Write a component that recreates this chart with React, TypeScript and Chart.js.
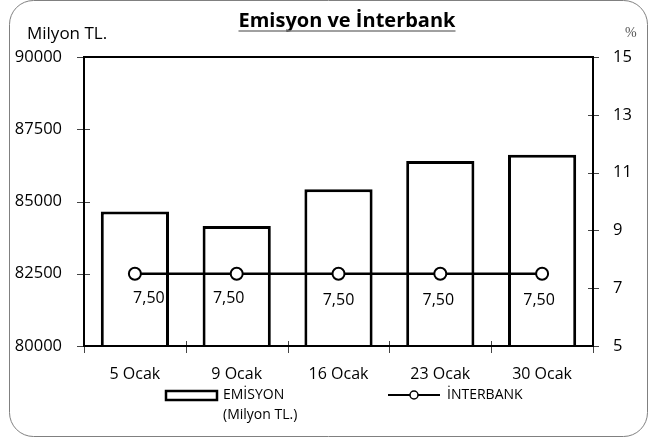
import React, { useEffect, useRef } from 'react';
import { Chart, registerables } from 'chart.js';

Chart.register(...registerables);

const categories = ['5 Ocak', '9 Ocak', '16 Ocak', '23 Ocak', '30 Ocak'];
const emisyon = [84650, 84150, 85420, 86400, 86620];
const interbank = [7.5, 7.5, 7.5, 7.5, 7.5];
const leftMin = 80000;
const leftMax = 90000;
const leftStep = 2500;
const rightMin = 5;
const rightMax = 15;
const rightStep = 2;

const titleText = 'Emisyon ve İnterbank';
const leftUnit = 'Milyon TL.';
const rightUnit = '%';
const legendBar = ['EMİSYON', '(Milyon TL.)'];
const legendLine = 'İNTERBANK';

// label placement style (manual nudges as in the original)
const labelDx = [14, -8, 0, -2, -3];
const labelDy = [25, 25, 27, 27, 27];

const FONT = '"Open Sans", sans-serif';

export default function App() {
  const ref = useRef<HTMLCanvasElement>(null);

  useEffect(() => {
    const canvas = ref.current!;
    const deco = {
      id: 'deco',
      beforeDraw(chart: any) {
        const ctx = chart.ctx as CanvasRenderingContext2D;
        ctx.save();
        // outer rounded border
        ctx.strokeStyle = '#808080';
        ctx.lineWidth = 1;
        ctx.beginPath();
        (ctx as any).roundRect(9.5, 0.5, 638, 436, 24);
        ctx.stroke();
        // title
        ctx.fillStyle = '#000';
        ctx.font = `bold 20px ${FONT}`;
        ctx.textAlign = 'center';
        ctx.textBaseline = 'alphabetic';
        ctx.fillText(titleText, 347, 27);
        const w = ctx.measureText(titleText).width;
        ctx.lineWidth = 1.5;
        ctx.beginPath();
        ctx.moveTo(347 - w / 2, 31);
        ctx.lineTo(347 + w / 2, 31);
        ctx.stroke();
        // units
        ctx.font = `17px ${FONT}`;
        ctx.textAlign = 'left';
        ctx.fillText(leftUnit, 27, 39);
        ctx.fillStyle = '#555';
        ctx.font = `14px "Liberation Serif", serif`;
        ctx.fillText(rightUnit, 625, 37);
        ctx.restore();
      },
      afterDatasetsDraw(chart: any) {
        const ctx = chart.ctx as CanvasRenderingContext2D;
        const a = chart.chartArea;
        const yl = chart.scales.y;
        const yr = chart.scales.y1;
        ctx.save();
        // tick marks
        ctx.strokeStyle = '#444';
        ctx.lineWidth = 1;
        ctx.beginPath();
        yl.ticks.forEach((t: any) => {
          const y = Math.round(yl.getPixelForValue(t.value)) + 0.5;
          ctx.moveTo(a.left - 7, y);
          ctx.lineTo(a.left + 6, y);
        });
        yr.ticks.forEach((t: any) => {
          const y = Math.round(yr.getPixelForValue(t.value)) + 0.5;
          ctx.moveTo(a.right - 5, y);
          ctx.lineTo(a.right + 6, y);
        });
        const n = categories.length;
        for (let i = 0; i <= n; i++) {
          const x = Math.round(a.left + ((a.right - a.left) * i) / n) + 0.5;
          ctx.moveTo(x, a.bottom - 5);
          ctx.lineTo(x, a.bottom + 7);
        }
        ctx.stroke();
        // frame
        ctx.strokeStyle = '#000';
        ctx.lineWidth = 2;
        ctx.strokeRect(a.left, a.top, a.right - a.left, a.bottom - a.top);
        ctx.restore();
      },
      afterDraw(chart: any) {
        const ctx = chart.ctx as CanvasRenderingContext2D;
        const meta = chart.getDatasetMeta(1);
        ctx.save();
        // point labels
        ctx.fillStyle = '#000';
        ctx.font = `16px ${FONT}`;
        ctx.textAlign = 'center';
        ctx.textBaseline = 'middle';
        meta.data.forEach((p: any, i: number) => {
          const txt = interbank[i].toFixed(2).replace('.', ',');
          ctx.fillText(txt, p.x + labelDx[i], p.y + labelDy[i]);
        });
        // legend
        ctx.strokeStyle = '#000';
        ctx.fillStyle = '#fff';
        ctx.lineWidth = 2.5;
        ctx.fillRect(166, 391, 51, 9);
        ctx.strokeRect(166, 391, 51, 9);
        ctx.fillStyle = '#000';
        ctx.font = `14px ${FONT}`;
        ctx.textAlign = 'left';
        ctx.fillText(legendBar[0], 223, 395);
        ctx.fillText(legendBar[1], 223, 415);
        ctx.lineWidth = 2;
        ctx.beginPath();
        ctx.moveTo(388, 395);
        ctx.lineTo(440, 395);
        ctx.stroke();
        ctx.beginPath();
        ctx.arc(414, 395, 4, 0, Math.PI * 2);
        ctx.fillStyle = '#fff';
        ctx.fill();
        ctx.lineWidth = 1.5;
        ctx.stroke();
        ctx.fillStyle = '#000';
        ctx.fillText(legendLine, 447, 395);
        ctx.restore();
      },
    };

    const chart = new Chart(canvas, {
      type: 'bar',
      data: {
        labels: categories,
        datasets: [
          {
            type: 'bar',
            label: 'EMİSYON (Milyon TL.)',
            data: emisyon,
            yAxisID: 'y',
            backgroundColor: '#fff',
            borderColor: '#000',
            borderWidth: 3,
            borderSkipped: false,
            barPercentage: 0.67,
            categoryPercentage: 1,
            order: 1,
          },
          {
            type: 'line',
            label: 'İNTERBANK',
            data: interbank,
            yAxisID: 'y1',
            borderColor: '#000',
            borderWidth: 2.5,
            pointRadius: 6,
            pointBackgroundColor: '#fff',
            pointBorderColor: '#000',
            pointBorderWidth: 2,
            order: 0,
          } as any,
        ],
      },
      options: {
        responsive: false,
        animation: false,
        devicePixelRatio: 1,
        layout: { padding: { top: 57, left: 0, right: 0, bottom: 0 } },
        plugins: { legend: { display: false }, tooltip: { enabled: false }, title: { display: false } },
        scales: {
          x: {
            grid: { display: false },
            border: { display: false },
            ticks: { color: '#000', font: { family: FONT, size: 16 }, padding: 11, maxRotation: 0 },
            afterFit: (s: any) => { s.height = 93; },
          },
          y: {
            position: 'left',
            min: leftMin,
            max: leftMax,
            grid: { display: false },
            border: { display: false },
            ticks: {
              stepSize: leftStep,
              color: '#000',
              font: { family: FONT, size: 16.5 },
              padding: 14,
              callback: (v: any) => String(v),
            },
            afterFit: (s: any) => { s.width = 84; },
          },
          y1: {
            position: 'right',
            min: rightMin,
            max: rightMax,
            grid: { display: false },
            border: { display: false },
            ticks: {
              stepSize: rightStep,
              color: '#000',
              font: { family: FONT, size: 16.5 },
              padding: 12,
              callback: (v: any) => String(v),
            },
            afterFit: (s: any) => { s.width = 59; },
          },
        },
      } as any,
      plugins: [deco],
    });
    return () => chart.destroy();
  }, []);

  return (
    <div style={{ position: 'absolute', left: 0, top: 0, width: 652, height: 439, background: '#fff' }}>
      <canvas ref={ref} width={652} height={439} style={{ display: 'block', width: 652, height: 439 }} />
    </div>
  );
}
